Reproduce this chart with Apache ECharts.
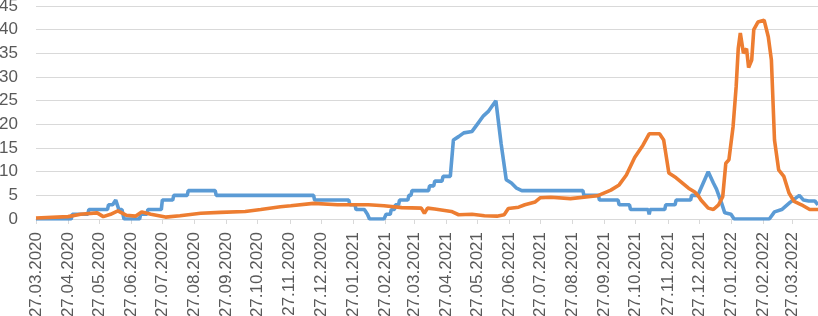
<!DOCTYPE html>
<html>
<head>
<meta charset="utf-8">
<script src="https://cdn.jsdelivr.net/npm/echarts@6/dist/echarts.min.js"></script>
<style>
html,body{margin:0;padding:0;background:#fff;}
#chart{width:818px;height:316px;}
</style>
</head>
<body>
<div id="chart"></div>
<script>
// Tick labels on the x axis (27th of each month)
const tickLabels = ['27.03.2020','27.04.2020','27.05.2020','27.06.2020','27.07.2020','27.08.2020','27.09.2020','27.10.2020','27.11.2020','27.12.2020','27.01.2021','27.02.2021','27.03.2021','27.04.2021','27.05.2021','27.06.2021','27.07.2021','27.08.2021','27.09.2021','27.10.2021','27.11.2021','27.12.2021','27.01.2022','27.02.2022','27.03.2022'];

// Blue series: dates and values
const blueDates = ['2020-03-27','2020-04-30','2020-05-01','2020-05-16','2020-05-17','2020-06-04','2020-06-05','2020-06-09','2020-06-12','2020-06-15','2020-06-18','2020-06-20','2020-07-05','2020-07-06','2020-07-12','2020-07-13','2020-07-26','2020-07-27','2020-08-06','2020-08-07','2020-08-20','2020-08-21','2020-09-16','2020-09-17','2020-12-20','2020-12-21','2021-01-23','2021-01-24','2021-01-29','2021-01-30','2021-02-07','2021-02-10','2021-02-12','2021-02-26','2021-02-28','2021-03-04','2021-03-05','2021-03-08','2021-03-09','2021-03-12','2021-03-13','2021-03-21','2021-03-22','2021-03-24','2021-03-25','2021-04-10','2021-04-11','2021-04-15','2021-04-16','2021-04-23','2021-04-24','2021-05-01','2021-05-04','2021-05-09','2021-05-14','2021-05-22','2021-05-27','2021-06-02','2021-06-07','2021-06-14','2021-06-19','2021-06-24','2021-06-29','2021-07-04','2021-07-09','2021-09-06','2021-09-07','2021-09-21','2021-09-22','2021-10-10','2021-10-11','2021-10-21','2021-10-22','2021-11-08','2021-11-09','2021-11-10','2021-11-24','2021-11-25','2021-12-04','2021-12-05','2021-12-19','2021-12-20','2021-12-26','2022-01-05','2022-01-10','2022-01-13','2022-01-18','2022-01-21','2022-01-27','2022-01-30','2022-03-05','2022-03-10','2022-03-17','2022-03-25','2022-04-03','2022-04-07','2022-04-12','2022-04-18','2022-04-21'];
const blueValues = [0,0,1,1,2,2,3,3,4,2,2,0,0,1,1,2,2,4,4,5,5,6,6,5,5,4,4,3,3,2,2,1,0,0,1,1,2,2,3,3,4,4,5,5,6,6,7,7,8,8,9,9,16.7,17.4,18.2,18.5,20,21.8,22.8,25,16,8.3,7.6,6.5,6,6,5,5,4,4,3,3,2,2,1,2,2,3,3,4,4,5,5,10,7.6,6.3,3.3,1.3,1,0,0,1.5,2,3.5,5,4,3.8,3.8,3];

// Orange series: dates and values
const orangeDates = ['2020-03-27','2020-04-27','2020-05-09','2020-05-25','2020-05-31','2020-06-07','2020-06-14','2020-06-22','2020-07-01','2020-07-07','2020-07-16','2020-07-30','2020-08-13','2020-09-02','2020-09-21','2020-10-15','2020-10-30','2020-11-18','2020-11-28','2020-12-20','2021-01-12','2021-02-11','2021-02-26','2021-03-15','2021-04-03','2021-04-06','2021-04-09','2021-04-16','2021-05-02','2021-05-09','2021-05-22','2021-06-03','2021-06-15','2021-06-22','2021-06-26','2021-07-06','2021-07-12','2021-07-22','2021-07-27','2021-08-06','2021-08-25','2021-09-20','2021-10-03','2021-10-11','2021-10-18','2021-10-26','2021-11-03','2021-11-09','2021-11-19','2021-11-23','2021-11-26','2021-11-28','2021-12-05','2021-12-10','2021-12-17','2021-12-23','2021-12-27','2021-12-29','2022-01-05','2022-01-10','2022-01-15','2022-01-19','2022-01-22','2022-01-25','2022-01-29','2022-02-01','2022-02-03','2022-02-05','2022-02-08','2022-02-11','2022-02-13','2022-02-16','2022-02-18','2022-02-22','2022-02-28','2022-03-04','2022-03-07','2022-03-10','2022-03-14','2022-03-19','2022-03-24','2022-03-29','2022-04-05','2022-04-13','2022-04-21'];
const orangeValues = [0.2,0.5,1,1.3,0.5,1,1.7,0.8,0.6,1.5,1,0.4,0.7,1.2,1.4,1.6,2,2.6,2.8,3.3,3,3,2.8,2.4,2.3,1.2,2.3,2.1,1.6,0.9,1,0.7,0.6,0.9,2.2,2.5,3,3.6,4.5,4.6,4.3,4.9,6.1,7.2,9.3,13,15.6,18,18,16.7,12.5,9.7,8.7,7.8,6.5,5.7,4.7,4,2.3,2,3,4.7,11.8,12.5,19.5,28,36,39.3,35,36,32,33.6,40,41.6,42,38.5,33.6,16.7,10.4,9,5.5,3.7,3,2,2];

function parseLabel(s){ const p = s.split('.'); return Date.UTC(+p[2], +p[1]-1, +p[0]); }
function parseIso(s){ const p = s.split('-'); return Date.UTC(+p[0], +p[1]-1, +p[2]); }
function fmt(ts){ const d = new Date(ts); const pad = n => (n<10?'0':'')+n; return pad(d.getUTCDate())+'.'+pad(d.getUTCMonth()+1)+'.'+d.getUTCFullYear(); }
const tickValues = tickLabels.map(parseLabel);

const chart = echarts.init(document.getElementById('chart'), null, {renderer:'canvas'});
const font = 'Liberation Sans';
chart.setOption({
  animation:false,
  backgroundColor:'#ffffff',
  grid:{left:36,right:0,top:6,bottom:97,containLabel:false,outerBoundsMode:'none'},
  xAxis:{
    type:'value',
    min:Date.UTC(2020,2,27),
    max:Date.UTC(2022,3,21),
    axisLine:{show:true,onZero:false,lineStyle:{color:'#d9d9d9',width:1}},
    axisTick:{show:true,customValues:tickValues,length:5,lineStyle:{color:'#d9d9d9'}},
    splitLine:{show:false},
    axisLabel:{customValues:tickValues,rotate:90,margin:13,fontSize:17,fontFamily:font,color:'#595959',formatter:function(v){return fmt(v);},hideOverlap:false,showMinLabel:true,showMaxLabel:true}
  },
  yAxis:{
    type:'value',min:0,max:45,interval:5,
    axisLine:{show:false},axisTick:{show:false},
    splitLine:{lineStyle:{color:'#d9d9d9',width:1}},
    axisLabel:{fontSize:17,fontFamily:font,color:'#595959',margin:18}
  },
  series:[
    {type:'line',name:'blue',data:blueDates.map((d,i)=>[parseIso(d),blueValues[i]]),showSymbol:false,symbol:'none',lineStyle:{color:'#5B9BD5',width:3.6},itemStyle:{color:'#5B9BD5'}},
    {type:'line',name:'orange',data:orangeDates.map((d,i)=>[parseIso(d),orangeValues[i]]),showSymbol:false,symbol:'none',lineStyle:{color:'#ED7D31',width:3.6},itemStyle:{color:'#ED7D31'}}
  ]
});
</script>
</body>
</html>
